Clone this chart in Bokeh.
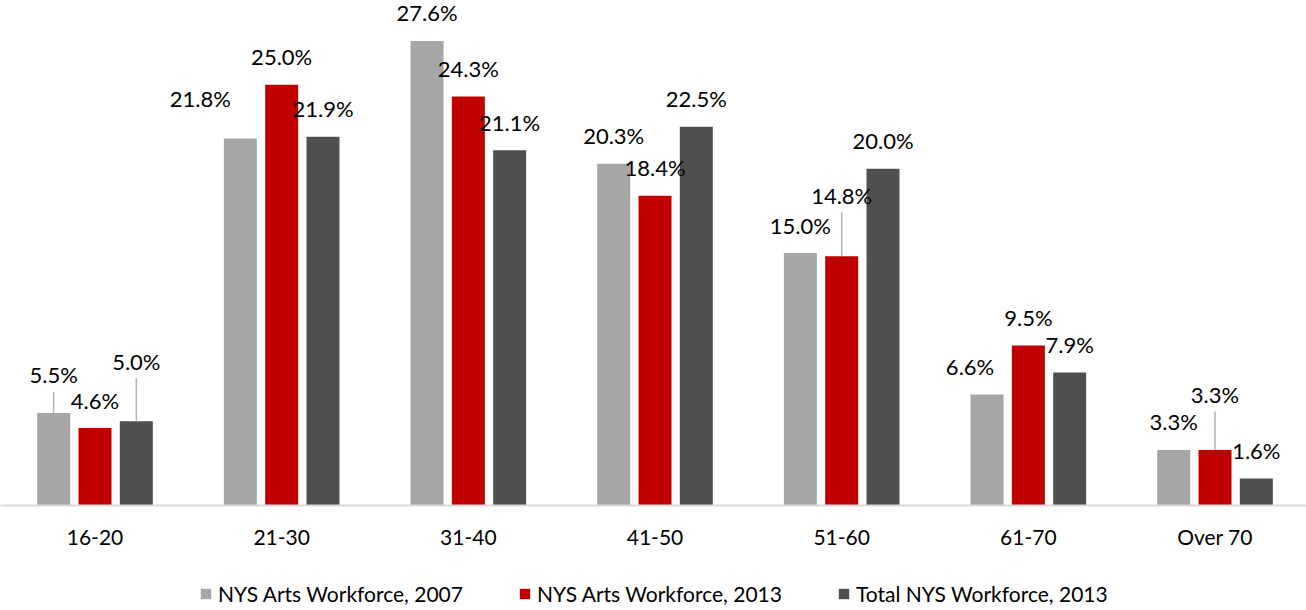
from bokeh.plotting import figure
from bokeh.layouts import column
from bokeh.models import ColumnDataSource, Range1d, FixedTicker, Legend, LegendItem
from bokeh.core.properties import value
from bokeh.transform import dodge
from bokeh.embed import file_html
from bokeh.resources import INLINE

# ---------------- data ----------------
categories = ["16-20", "21-30", "31-40", "41-50", "51-60", "61-70", "Over 70"]
arts_2007 = [5.5, 21.8, 27.6, 20.3, 15.0, 6.6, 3.3]
arts_2013 = [4.6, 25.0, 24.3, 18.4, 14.8, 9.5, 3.3]
total_2013 = [5.0, 21.9, 21.1, 22.5, 20.0, 7.9, 1.6]
series_names = ["NYS Arts Workforce, 2007", "NYS Arts Workforce, 2013", "Total NYS Workforce, 2013"]

# ---------------- styles ----------------
colors = ["#A6A6A6", "#C00000", "#4F4F4F"]
FONT = "Lato"
W = 1306
H_MAIN, H_LEG = 560, 50
FRAME_H = 505
Y_END = 30.0
PX_PER = FRAME_H / Y_END
CAT_PX = 186.67
X_START = -94.5 / CAT_PX
BAR_W = 0.1768
OFFSETS = [-0.2213, 0.0, 0.2213]
BASE_DY = 28  # px between bar top and label centre
LEADER_GAP = 17  # px from label centre to leader start
# (series, category) -> (dx px, extra dy px, leader line)
label_adjust = {
    (0, 0): (0, 10, True),
    (2, 0): (0, 32, True),
    (0, 1): (-40, 12, False),
    (1, 4): (0, 33, True),
    (0, 5): (-17, 0, False),
    (1, 6): (0, 27.5, True),
}

x_range = Range1d(X_START, X_START + W / CAT_PX)
p = figure(width=W, height=H_MAIN, x_range=x_range, y_range=Range1d(0, Y_END),
           output_backend="svg", toolbar_location=None,
           min_border_left=0, min_border_right=0, min_border_top=0,
           min_border_bottom=H_MAIN - FRAME_H, y_axis_location=None)
p.outline_line_color = None
p.xgrid.visible = False
p.ygrid.visible = False

src = ColumnDataSource(dict(x=list(range(len(categories))), a07=arts_2007, a13=arts_2013, t13=total_2013))
fields = ["a07", "a13", "t13"]
series_vals = [arts_2007, arts_2013, total_2013]

for s, f in enumerate(fields):
    p.vbar(x=dodge("x", OFFSETS[s], range=x_range), top=f, width=BAR_W, bottom=0,
           source=src, fill_color=colors[s], line_color=None)

# data labels and leader lines
for s, vals in enumerate(series_vals):
    xs, ys, txt, xo, yo = [], [], [], [], []
    lx, ly0, ly1 = [], [], []
    for i, v in enumerate(vals):
        dx, extra, leader = label_adjust.get((s, i), (0, 0, False))
        xs.append(i + OFFSETS[s])
        ys.append(v)
        txt.append(f"{v:.1f}%")
        xo.append(dx)
        yo.append(-(BASE_DY + extra))
        if leader:
            lx.append(i + OFFSETS[s])
            ly0.append(v)
            ly1.append(v + (BASE_DY + extra - LEADER_GAP) / PX_PER)
    if lx:
        p.segment(x0=lx, y0=ly0, x1=lx, y1=ly1, line_color="#B4B4B4", line_width=1.5)
    p.text(x=xs, y=ys, text=txt, x_offset=xo, y_offset=yo,
           text_align="center", text_baseline="middle",
           text_font=value(FONT), text_font_size="22px", text_color="#000000")

ax = p.xaxis[0]
ax.ticker = FixedTicker(ticks=list(range(len(categories))))
ax.major_label_overrides = {i: c for i, c in enumerate(categories)}
ax.axis_line_color = "#D9D9D9"
ax.axis_line_width = 2
ax.major_tick_line_color = None
ax.minor_tick_line_color = None
ax.major_label_text_font = FONT
ax.major_label_text_font_size = "21px"
ax.major_label_text_color = "#000000"
ax.major_label_standoff = 12

# legend strip: same series drawn far out of view, legend inside its frame
pl = figure(width=W, height=H_LEG, x_range=Range1d(100, 101), y_range=Range1d(100, 101),
            output_backend="svg", toolbar_location=None,
            min_border_left=0, min_border_right=0, min_border_top=0, min_border_bottom=0,
            x_axis_location=None, y_axis_location=None)
pl.outline_line_color = None
pl.xgrid.visible = False
pl.ygrid.visible = False
leg_renderers = []
for s, f in enumerate(fields):
    leg_renderers.append(pl.vbar(x=dodge("x", OFFSETS[s]), top=f, width=BAR_W,
                                 bottom=0, source=src, fill_color=colors[s], line_color=None))

legend = Legend(items=[LegendItem(label=n, renderers=[r]) for n, r in zip(series_names, leg_renderers)],
                orientation="horizontal", location=(199, 4),
                label_text_font=FONT, label_text_font_size="21px", label_text_color="#000000",
                glyph_width=13, glyph_height=13, label_standoff=6, spacing=55,
                border_line_color=None, background_fill_alpha=0, padding=0, margin=0)
pl.add_layout(legend)

layout = column(p, pl, spacing=0)
open("out.html", "w").write(file_html(layout, INLINE))
